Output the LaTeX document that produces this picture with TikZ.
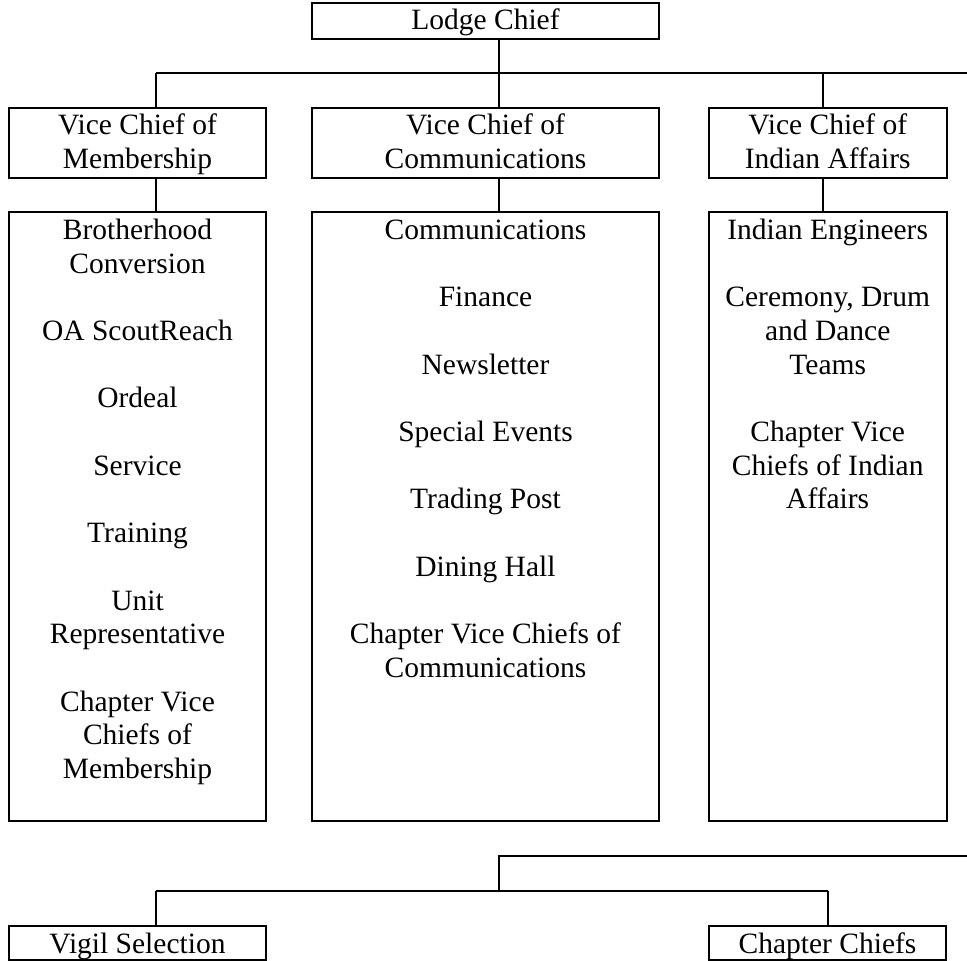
\documentclass[tikz,border=0pt]{standalone}
\usepackage{fontspec}
\setmainfont{Liberation Serif}
\newcommand\mlines[1]{\begin{tabular}[t]{@{}c@{}}#1\end{tabular}}
\begin{document}
\begin{tikzpicture}[x=1pt,y=-1pt,
  box/.style={draw, line width=1.8pt, rectangle, inner sep=0pt},
  txt/.style={anchor=base, inner sep=0pt, font=\fontsize{29.5}{33.7}\selectfont},
  wire/.style={draw, line width=1.8pt, line join=miter}]
\useasboundingbox[fill=white] (0,0) rectangle (967,961);
% boxes
\node[box, minimum width=347pt, minimum height=36.3pt] (lodge) at (485.5,20.85) {};
\node[box, minimum width=256.4pt, minimum height=69.7pt] (vcm) at (137.5,142.85) {};
\node[box, minimum width=347pt, minimum height=69.7pt] (vcc) at (485.5,142.85) {};
\node[box, minimum width=238pt, minimum height=69.7pt] (vci) at (827.7,142.85) {};
\node[box, minimum width=256.4pt, minimum height=608.4pt] (colm) at (137.5,516.5) {};
\node[box, minimum width=347pt, minimum height=608.4pt] (colc) at (485.5,516.5) {};
\node[box, minimum width=238pt, minimum height=608.4pt] (coli) at (827.7,516.5) {};
\node[box, minimum width=256.4pt, minimum height=34pt] (vigil) at (137.5,943) {};
\node[box, minimum width=237.6pt, minimum height=34pt] (chiefs) at (827.5,943) {};
% texts
\node[txt] (lodgeT) at (485.5,30) {Lodge Chief};
\node[txt] (vcmT) at (137.5,134.3) {\mlines{Vice Chief of\\Membership}};
\node[txt] (vccT) at (485.5,134.3) {\mlines{Vice Chief of\\Communications}};
\node[txt] (vciT) at (827.7,134.3) {\mlines{Vice Chief of\\Indian Affairs}};
\node[txt] (colmT) at (137.5,239.3) {\mlines{Brotherhood\\Conversion\\ \\OA ScoutReach\\ \\Ordeal\\ \\Service\\ \\Training\\ \\Unit\\Representative\\ \\Chapter Vice\\Chiefs of\\Membership}};
\node[txt] (colcT) at (485.5,239.3) {\mlines{Communications\\ \\Finance\\ \\Newsletter\\ \\Special Events\\ \\Trading Post\\ \\Dining Hall\\ \\Chapter Vice Chiefs of\\Communications}};
\node[txt] (coliT) at (827.7,239.3) {\mlines{Indian Engineers\\ \\Ceremony, Drum\\and Dance\\Teams\\ \\Chapter Vice\\Chiefs of Indian\\Affairs}};
\node[txt] (vigilT) at (137.5,953.3) {Vigil Selection};
\node[txt] (chiefsT) at (827.5,953.3) {Chapter Chiefs};
% connector coordinates
\coordinate (xm) at (499,72.7);
\coordinate (busL) at (156,72.7);
\coordinate (busR) at (967,72.7);
\coordinate (xr) at (823,72.7);
\coordinate (b1R) at (967,856);
\coordinate (b1M) at (499,856);
\coordinate (b2L) at (156,890.7);
\coordinate (b2R) at (828,890.7);
% connectors
\draw[wire] (lodge.south -| xm) -- (vcc.north -| xm);
\draw[wire] (busL) -- (busR);
\draw[wire] (busL) -- (vcm.north -| busL);
\draw[wire] (xr) -- (vci.north -| xr);
\draw[wire] (vcm.south -| busL) -- (colm.north -| busL);
\draw[wire] (vcc.south -| xm) -- (colc.north -| xm);
\draw[wire] (vci.south -| xr) -- (coli.north -| xr);
\draw[wire] (b1R) -- (b1M) -- (b1M |- b2L);
\draw[wire] (b2L) -- (b2R);
\draw[wire] (b2L) -- (vigil.north -| b2L);
\draw[wire] (b2R) -- (chiefs.north -| b2R);
\end{tikzpicture}
\end{document}
